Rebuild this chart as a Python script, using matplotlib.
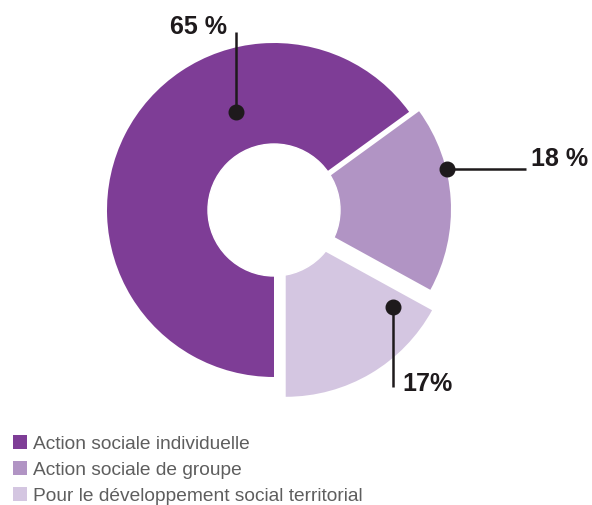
import matplotlib.pyplot as plt
from matplotlib.patches import Circle

# data
labels = ["Action sociale individuelle", "Action sociale de groupe",
          "Pour le développement social territorial"]
values = [65, 18, 17]
value_texts = ["65 %", "18 %", "17%"]
colors = ["#7e3d96", "#b194c4", "#d4c6e1"]

dark = "#1e1a1c"

fig = plt.figure(figsize=(5.92, 5.05), dpi=100)
ax = fig.add_axes([0, 0, 1, 1])

# pie in pixel units (y up)
cx, cy = 274, 295
wedges, _ = ax.pie(values, radius=167, center=(cx, cy), startangle=270,
                   counterclock=False, explode=[0, 10, 23], colors=colors)
ax.add_patch(Circle((cx, cy), 66, color="white", zorder=5))

ax.set_xlim(0, 592)
ax.set_ylim(0, 505)
ax.set_aspect("equal")
ax.axis("off")

# callouts
def callout(dot, end, text, tx, ty, ha):
  ax.plot([dot[0], end[0]], [dot[1], end[1]], color=dark, lw=1.8,
          solid_capstyle="butt", zorder=6)
  ax.plot(dot[0], dot[1], "o", color=dark, ms=10.5, zorder=7)
  ax.text(tx, ty, text, ha=ha, va="center", fontsize=18,
          fontweight="bold", color=dark, family="Liberation Sans")

callout((236, 393), (236, 473), value_texts[0], 227, 478.5, "right")
callout((447, 336), (526, 336), value_texts[1], 531, 345.5, "left")
callout((393, 198), (393, 118), value_texts[2], 402, 121, "left")

fig.legend(wedges, labels, loc="upper left",
           bbox_to_anchor=(13 / 592, 1 - 435 / 505), frameon=False,
           borderpad=0, borderaxespad=0, handlelength=0.73,
           handleheight=0.73, handletextpad=0.33, labelspacing=0.44,
           prop={"family": "Liberation Sans", "size": 13.8},
           labelcolor="#5e5e5e")

fig.savefig("out.png", dpi=100)
